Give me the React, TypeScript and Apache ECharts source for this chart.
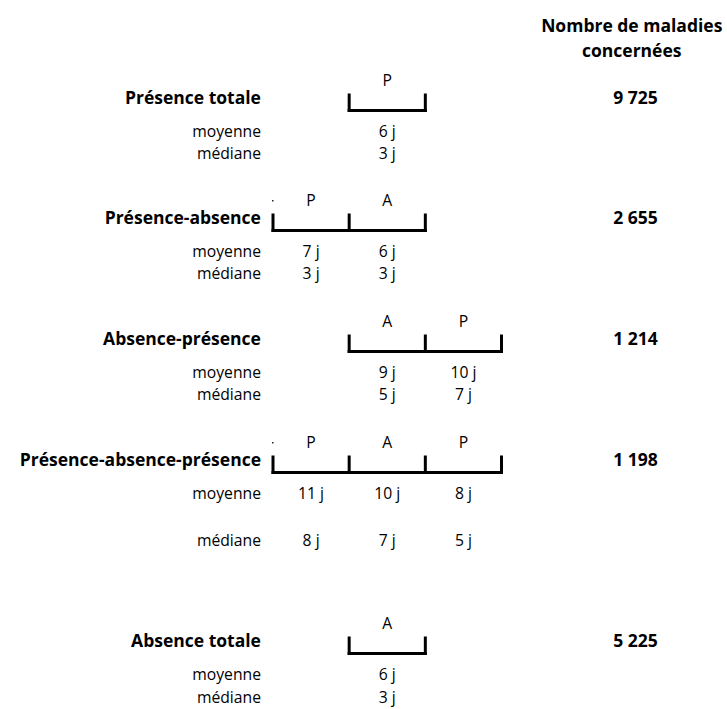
import React, { useEffect, useRef } from "react";
import * as echarts from "echarts";

// ---- data ----
const headerLines = ["Nombre de maladies", "concernées"];
const statLabels = ["moyenne", "médiane"];
const rowNames = [
  "Présence totale",
  "Présence-absence",
  "Absence-présence",
  "Présence-absence-présence",
  "Absence totale",
];
const rowSegments = [["P"], ["P", "A"], ["A", "P"], ["P", "A", "P"], ["A"]];
const rowStartColumn = [1, 0, 1, 0, 1];
const rowMeans = [["6 j"], ["7 j", "6 j"], ["9 j", "10 j"], ["11 j", "10 j", "8 j"], ["6 j"]];
const rowMedians = [["3 j"], ["3 j", "3 j"], ["5 j", "7 j"], ["8 j", "7 j", "5 j"], ["3 j"]];
const rowCounts = ["9 725", "2 655", "1 214", "1 198", "5 225"];

// ---- layout (y axis units) ----
const rowBaseline = [110.5, 230.5, 351.5, 472.5, 653.5];
const medianOffset = [42.5, 42.5, 42.5, 67.5, 43.5];
const dotRows = [1, 3];
const FONT = "'Open Sans', 'Noto Sans', sans-serif";
const FS = 15.7;
const FS_BOLD = 17.5;

type TextItem = { value: number[]; text: string; align: string; bold: boolean };

export default function App() {
  const ref = useRef<HTMLDivElement>(null);
  useEffect(() => {
    document.body.style.margin = "0";
    if (!ref.current) return;
    const chart = echarts.init(ref.current, undefined, { renderer: "svg" });

    const labelX = -0.158;
    const countX = 4.76;
    const headerX = 4.71;

    const texts: TextItem[] = [];
    texts.push({ value: [headerX, 25], text: headerLines[0], align: "center", bold: true });
    texts.push({ value: [headerX, 50], text: headerLines[1], align: "center", bold: true });

    const brackets: number[][] = [];
    const dots: number[][] = [];
    rowNames.forEach((name, i) => {
      const b = rowBaseline[i];
      const s = rowStartColumn[i];
      const n = rowSegments[i].length;
      brackets.push([s, s + n, b]);
      texts.push({ value: [labelX, b - 14], text: name, align: "right", bold: true });
      texts.push({ value: [countX, b - 14], text: rowCounts[i], align: "center", bold: true });
      texts.push({ value: [labelX, b + 20.5], text: statLabels[0], align: "right", bold: false });
      texts.push({ value: [labelX, b + medianOffset[i]], text: statLabels[1], align: "right", bold: false });
      rowSegments[i].forEach((seg, k) => {
        const cx = s + k + 0.5;
        texts.push({ value: [cx, b - 31], text: seg, align: "center", bold: false });
        texts.push({ value: [cx, b + 20.5], text: rowMeans[i][k], align: "center", bold: false });
        texts.push({ value: [cx, b + medianOffset[i]], text: rowMedians[i][k], align: "center", bold: false });
      });
      if (dotRows.includes(i)) dots.push([s, b - 29.5]);
    });

    chart.setOption({
      animation: false,
      backgroundColor: "#ffffff",
      grid: { left: 273, width: 228.5, top: 0, height: 709 },
      xAxis: { type: "value", min: 0, max: 3, show: false },
      yAxis: { type: "value", min: 0, max: 709, inverse: true, show: false },
      series: [
        {
          type: "custom",
          clip: false,
          silent: true,
          data: brackets,
          renderItem: (params: any, api: any) => {
            const s = api.value(0);
            const e = api.value(1);
            const y = api.value(2);
            const p0 = api.coord([s, y]);
            const p1 = api.coord([e, y]);
            const children: any[] = [
              {
                type: "line",
                shape: { x1: p0[0] - 1.5, y1: p0[1], x2: p1[0] + 1.5, y2: p1[1] },
                style: { stroke: "#000", lineWidth: 3 },
              },
            ];
            for (let c = s; c <= e; c++) {
              const pb = api.coord([c, y + 1.5]);
              const pt = api.coord([c, y - 17]);
              children.push({
                type: "line",
                shape: { x1: pb[0], y1: pb[1], x2: pt[0], y2: pt[1] },
                style: { stroke: "#000", lineWidth: 3 },
              });
            }
            return { type: "group", children };
          },
        },
        {
          type: "custom",
          clip: false,
          silent: true,
          data: dots,
          renderItem: (params: any, api: any) => {
            const p = api.coord([api.value(0), api.value(1)]);
            return {
              type: "rect",
              shape: { x: p[0] - 1, y: p[1] - 1, width: 1.5, height: 1.5 },
              style: { fill: "#222" },
            };
          },
        },
        {
          type: "custom",
          clip: false,
          silent: true,
          data: texts.map((t) => t.value),
          renderItem: (params: any, api: any) => {
            const t = texts[params.dataIndex];
            const p = api.coord([api.value(0), api.value(1)]);
            return {
              type: "text",
              x: p[0],
              y: p[1],
              style: {
                text: t.text,
                textAlign: t.align,
                align: t.align,
                textVerticalAlign: "middle",
                verticalAlign: "middle",
                fontFamily: FONT,
                fontSize: t.bold ? FS_BOLD : FS,
                fontWeight: t.bold ? "bold" : "normal",
                fill: "#000",
              },
            };
          },
        },
      ],
    });
    return () => chart.dispose();
  }, []);
  return <div ref={ref} style={{ width: 727, height: 709 }} />;
}
